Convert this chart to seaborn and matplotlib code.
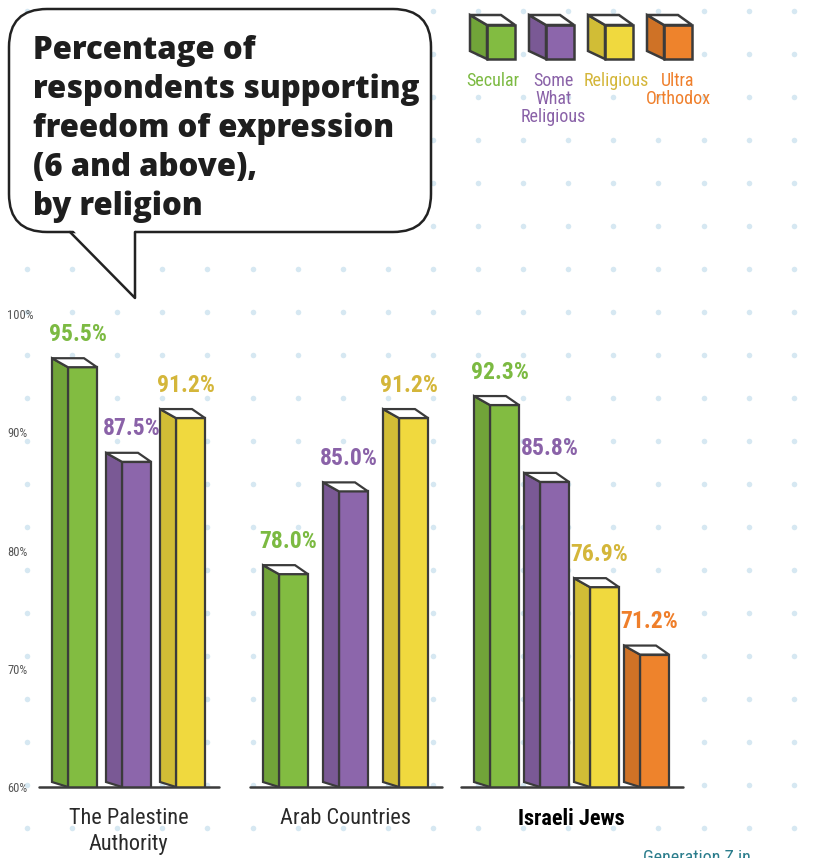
import numpy as np
import pandas as pd
import seaborn as sns
import matplotlib.pyplot as plt
from matplotlib import font_manager as fm
from matplotlib.colors import to_rgb
from matplotlib.patches import Polygon, FancyBboxPatch

# data
regions = ["The Palestine\nAuthority", "Arab Countries", "Israeli Jews"]
religions = ["Secular", "Some What Religious", "Religious", "Ultra Orthodox"]
legend_labels = ["Secular", "Some\nWhat\nReligious", "Religious", "Ultra\nOrthodox"]
palestine_vals = [95.5, 87.5, 91.2]
arab_vals = [78.0, 85.0, 91.2]
israeli_vals = [92.3, 85.8, 76.9, 71.2]
yticks = [60, 70, 80, 90, 100]

# layout (axis x unit = 1 pixel), styles
group_start = [42.5, 253.5, 464.5]
bar_step = [54, 60, 50]
legend_shift = [0, 1, 5, 8]
FRONT_W = 29
SIDE_W = 16
EDGE = "#3b3b3b"
front_colors = {"Secular": "#82bc41", "Some What Religious": "#8c66ab",
                "Religious": "#f0d93e", "Ultra Orthodox": "#ee832c"}
label_colors = {"Secular": "#7cba42", "Some What Religious": "#8a62a8",
                "Religious": "#d4b63a", "Ultra Orthodox": "#ef7f2b"}


def narrow_font(bold=False):
    """Pick a condensed sans face if one is installed."""
    narrow = ("condensed", "semi-condensed", "extra-condensed", "ultra-condensed")
    prefs = ["Liberation Sans Narrow", "Roboto Condensed", "Open Sans Condensed",
             "Noto Sans", "DejaVu Sans", "Open Sans", "Roboto"]
    cands = [f for f in fm.fontManager.ttflist
             if (f.stretch in narrow or "Narrow" in f.name or "Condensed" in f.name)
             and f.style == "normal"]
    best, best_key = None, None
    for f in cands:
        fam = prefs.index(f.name) if f.name in prefs else len(prefs)
        w = f.weight if isinstance(f.weight, int) else 400
        key = (fam, abs(w - (700 if bold else 400)), f.stretch != "condensed")
        if best_key is None or key < best_key:
            best, best_key = f, key
    if best is None:
        return {"family": "DejaVu Sans", "fontweight": "bold" if bold else "normal"}
    return {"fontproperties": fm.FontProperties(fname=best.fname)}


NARROW = narrow_font()
NARROW_B = narrow_font(bold=True)
names = {f.name for f in fm.fontManager.ttflist}
TITLE_FONT = "Open Sans" if "Open Sans" in names else "DejaVu Sans"

rows = []
for g, vals in enumerate([palestine_vals, arab_vals, israeli_vals]):
    for i, v in enumerate(vals):
        rows.append({"region": regions[g], "religion": religions[i], "value": v,
                     "pos": group_start[g] + i * bar_step[g]})
df = pd.DataFrame(rows)

sns.set_style("white")
fig = plt.figure(figsize=(8.13, 8.58), dpi=100)

# background: dotted paper, speech bubble, legend cubes
bg = fig.add_axes([0, 0, 1, 1], zorder=-1)
bg.set_xlim(0, 813)
bg.set_ylim(858, 0)
bg.axis("off")
dx, dy = np.meshgrid(np.arange(27, 813, 45.1), np.arange(11, 858, 43))
bg.scatter(dx.ravel(), dy.ravel(), s=16, color="#d6e8f2", linewidths=0, zorder=0)

bubble = FancyBboxPatch((9, 9), 422, 223, boxstyle="round,pad=0,rounding_size=38",
                        facecolor="white", edgecolor="#222222", lw=1.8, zorder=2)
bg.add_patch(bubble)
bg.add_patch(Polygon([(72, 229), (135, 298), (135, 229)], closed=True,
                     facecolor="white", edgecolor="none", zorder=3))
bg.plot([70, 135, 135], [232, 298, 232], color="#222222", lw=1.8, zorder=4)
bg.text(33, 35, "Percentage of\nrespondents supporting\nfreedom of expression\n"
        "(6 and above),\nby religion", va="top", ha="left", fontsize=22.5,
        fontweight="heavy", family=TITLE_FONT, color="#1e1e1e", linespacing=1.27, zorder=5)

for k, rel in enumerate(religions):
    fl, fr, ft, fb = 487 + 59 * k, 515 + 59 * k, 25, 59
    side = tuple(c * 0.87 for c in to_rgb(front_colors[rel]))
    bg.add_patch(Polygon([(fl, ft), (fr, ft), (fr, fb), (fl, fb)], facecolor=front_colors[rel],
                         edgecolor=EDGE, lw=1.8, zorder=3))
    bg.add_patch(Polygon([(fl - 17, ft - 10), (fl, ft), (fl, fb), (fl - 17, fb - 8)],
                         facecolor=side, edgecolor=EDGE, lw=1.8, zorder=3))
    bg.add_patch(Polygon([(fl - 17, ft - 10), (fr - 14, ft - 10), (fr, ft), (fl, ft)],
                         facecolor="white", edgecolor=EDGE, lw=1.8, zorder=3))
    bg.text((fl + fr) / 2 - 8 + legend_shift[k], 72, legend_labels[k],
            ha="center", va="top", fontsize=13, color=label_colors[rel], linespacing=1.0,
            **NARROW)

bg.text(643, 849, "Generation Z in", ha="left", va="top", fontsize=13,
        color="#2b7d8c", **NARROW)

# main chart
ax = fig.add_axes([40 / 813, 71 / 858, 640 / 813, 473 / 858])
width = FRONT_W / np.diff(np.sort(df["pos"].unique())).min()
sns.barplot(data=df, x="pos", y="value", hue="religion", hue_order=religions,
            palette=front_colors, native_scale=True, dodge=False, width=width,
            saturation=1, edgecolor=EDGE, linewidth=1.6, errorbar=None, legend=False,
            ax=ax, zorder=2)
ax.set_xlim(0, 640)
ax.set_ylim(60, 100)

px = 40 / 473  # data units per pixel on y
for p in list(ax.patches):
    L, R, top = p.get_x(), p.get_x() + p.get_width(), p.get_height()
    side = tuple(c * 0.87 for c in p.get_facecolor()[:3])
    ax.add_patch(Polygon([(L - SIDE_W, 60 + 5 * px), (L - SIDE_W, top + 9 * px), (L, top), (L, 60)],
                         facecolor=side, edgecolor=EDGE, lw=1.6, zorder=3))
    ax.add_patch(Polygon([(L - SIDE_W, top + 9 * px), (R - SIDE_W + 3, top + 9 * px), (R, top), (L, top)],
                         facecolor="white", edgecolor=EDGE, lw=1.6, zorder=3))

for _, r in df.iterrows():
    ax.annotate(f"{r['value']:.1f}%", (r["pos"], r["value"]), xytext=(-5 * 0.72, 33 * 0.72),
                textcoords="offset points", ha="center", va="center", fontsize=17,
                color=label_colors[r["religion"]], zorder=5, **NARROW_B)

# baselines and group labels
for g, region in enumerate(regions):
    sub = df[df["region"] == region]
    x0 = sub["pos"].min() - FRONT_W / 2 - SIDE_W - 13
    x1 = sub["pos"].max() + FRONT_W / 2 + 14
    ax.plot([x0, x1], [60, 60], color=EDGE, lw=1.8, zorder=6, clip_on=False)
    ax.text(sub["pos"].mean() - 8, 60 - 21 * px, region, ha="center", va="top",
            fontsize=16, color="#000000" if g == 2 else "#2a2a2a",
            linespacing=1.3, clip_on=False, **(NARROW_B if g == 2 else NARROW))

sns.despine(ax=ax, left=True, bottom=True)
ax.set_facecolor("none")
ax.set_xticks([])
ax.set_xlabel("")
ax.set_ylabel("")
ax.set_yticks(yticks)
ax.set_yticklabels([f"{t}%" for t in yticks], fontsize=8.5, color="#555555", **NARROW)
ax.tick_params(axis="y", length=0, pad=33 * 0.72)
for t in ax.get_yticklabels():
    t.set_horizontalalignment("left")
    t.set_fontsize(9)

fig.savefig("out.png", dpi=100)
